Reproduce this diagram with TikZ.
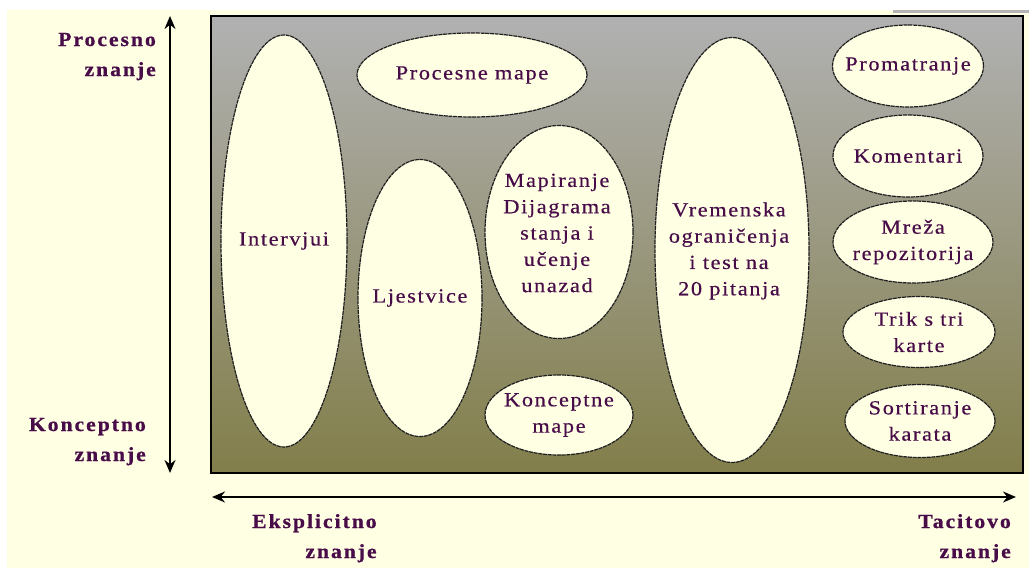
\documentclass[tikz,border=0pt]{standalone}
\usepackage{fontspec}
\setmainfont{Liberation Serif}
\newfontfamily\bubblefont[FakeStretch=1.12,LetterSpace=8,FakeBold=0.4]{Liberation Serif}
\newfontfamily\axisfont[FakeStretch=1.08,LetterSpace=10,FakeBold=0.8]{Liberation Serif}
\usetikzlibrary{shapes.geometric,arrows.meta}

\definecolor{paper}{RGB}{255,255,228}
\definecolor{panelTop}{RGB}{176,176,176}
\definecolor{panelBot}{RGB}{127,123,68}
\definecolor{ink}{RGB}{72,12,72}
\definecolor{rim}{RGB}{30,30,30}
\definecolor{strip}{RGB}{180,180,180}

% vertical shading of the panel: olive at the bottom, grey at the top
\pgfdeclareverticalshading{panelshade}{100bp}{%
  color(0bp)=(panelBot); color(22bp)=(panelBot);
  color(74bp)=(panelTop); color(100bp)=(panelTop)}

\tikzset{
  bubble/.style={ellipse, draw=rim, line width=1.2pt,
    dash pattern=on 4pt off 0.7pt, fill=paper, inner sep=0pt},
  bubbletext/.style={text=ink, align=center, inner sep=0pt,
    font=\bubblefont\fontsize{20}{26.3}\selectfont},
  axislabel/.style={text=ink, align=right, inner sep=0pt,
    font=\axisfont\fontsize{20}{30}\bfseries\selectfont},
  axisline/.style={line width=2pt,
    {Stealth[length=13pt,width=11pt]}-{Stealth[length=13pt,width=11pt]}},
}

\begin{document}
\begin{tikzpicture}[x=1pt,y=-1pt]
\useasboundingbox (0,0) rectangle (1029,568);
\fill[white] (0,0) rectangle (1029,568);
\fill[paper] (7,10) rectangle (1029,568);
\fill[strip] (893,10) rectangle (1029,13);

% panel
\shade[shading=panelshade] (211,16) rectangle (1023,473);
\draw[line width=1.6pt] (211,16) rectangle (1023,473);

% bubbles
\node[bubble, minimum width=126pt, minimum height=412pt] (intervjui) at (284,241) {};
\node[bubble, minimum width=230pt, minimum height=84pt] (procmape) at (472,75) {};
\node[bubble, minimum width=124pt, minimum height=277pt] (ljestvice) at (420,298) {};
\node[bubble, minimum width=148pt, minimum height=213pt] (mapiranje) at (559,232) {};
\node[bubble, minimum width=148pt, minimum height=80pt] (konmape) at (559,415) {};
\node[bubble, minimum width=154pt, minimum height=425pt] (vremenska) at (732,250) {};
\node[bubble, minimum width=151pt, minimum height=82pt] (promatranje) at (908,66) {};
\node[bubble, minimum width=150pt, minimum height=82pt] (komentari) at (908,156) {};
\node[bubble, minimum width=160pt, minimum height=82pt] (mreza) at (913,242) {};
\node[bubble, minimum width=152pt, minimum height=71pt] (trik) at (919,332) {};
\node[bubble, minimum width=150pt, minimum height=73pt] (sortiranje) at (920,421) {};

% bubble texts
\node[bubbletext] (intervjui-t) at (intervjui) {Intervjui};
\node[bubbletext] (procmape-t) at (procmape) {Procesne mape};
\node[bubbletext] (ljestvice-t) at (ljestvice) {Ljestvice};
\node[bubbletext] (mapiranje-t) at (557,233) {Mapiranje\\Dijagrama\\stanja i\\učenje\\unazad};
\node[bubbletext] (konmape-t) at (konmape) {Konceptne\\mape};
\node[bubbletext] (vremenska-t) at (729,251) {Vremenska\\ograničenja\\i test na\\20 pitanja};
\node[bubbletext] (promatranje-t) at (promatranje) {Promatranje};
\node[bubbletext] (komentari-t) at (komentari) {Komentari};
\node[bubbletext] (mreza-t) at (mreza) {Mreža\\repozitorija};
\node[bubbletext] (trik-t) at (trik) {Trik s tri\\karte};
\node[bubbletext] (sortiranje-t) at (sortiranje) {Sortiranje\\karata};

% axes
\coordinate (vtop) at (170,16);
\coordinate (vbot) at (170,473);
\coordinate (hleft) at (212,497);
\coordinate (hright) at (1016,497);
\draw[axisline] (vtop) -- (vbot);
\draw[axisline] (hleft) -- (hright);

% axis labels (anchored at the baseline of the last line)
\node[axislabel, anchor=base east] (procesno) at (156,76) {Procesno\\znanje};
\node[axislabel, anchor=base east] (konceptno) at (146,461) {Konceptno\\znanje};
\node[axislabel, anchor=base west] (eksplicitno) at (252,558) {Eksplicitno\\znanje};
\node[axislabel, anchor=base east] (tacitovo) at (1011,558) {Tacitovo\\znanje};
\end{tikzpicture}
\end{document}
